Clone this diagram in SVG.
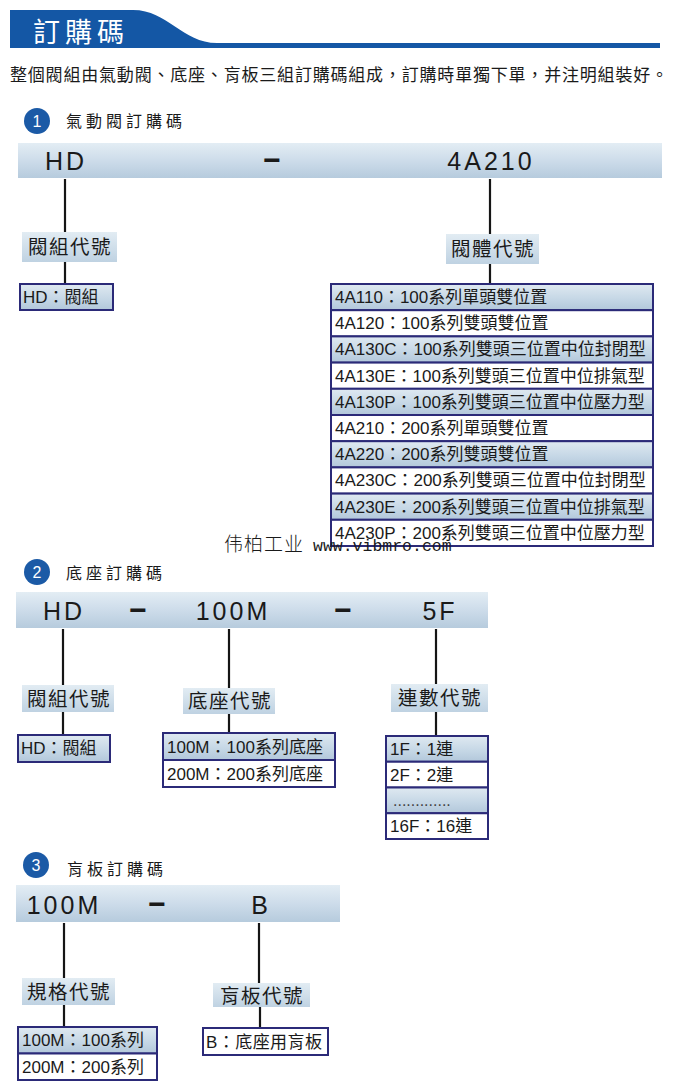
<svg xmlns="http://www.w3.org/2000/svg" width="680" height="1089" viewBox="0 0 680 1089">
<defs>
<linearGradient id="gBar" x1="0" y1="0" x2="0" y2="1">
<stop offset="0" stop-color="#e3edf4"/><stop offset="0.5" stop-color="#cddcea"/><stop offset="1" stop-color="#b6cbdd"/>
</linearGradient>
<linearGradient id="gLbl" x1="0" y1="0" x2="0" y2="1">
<stop offset="0" stop-color="#e2ecf3"/><stop offset="1" stop-color="#bfd2e2"/>
</linearGradient>
<linearGradient id="gRow" x1="0" y1="0" x2="0" y2="1">
<stop offset="0" stop-color="#dfe9f1"/><stop offset="0.6" stop-color="#c4d6e5"/><stop offset="1" stop-color="#b2c7da"/>
</linearGradient>
</defs>
<style>
text{font-family:"Liberation Sans","Noto Sans CJK TC",sans-serif;fill:#1a1a1a}
.bar{fill:url(#gBar)}
.lbl{fill:url(#gLbl)}
.row{fill:url(#gRow);stroke:#2b2a78;stroke-width:2}
.wrow{fill:#fff;stroke:#2b2a78;stroke-width:2}
.code{font-size:25px;letter-spacing:3px;text-anchor:middle}
.dash{font-size:30px;font-weight:bold;text-anchor:middle}
.lt{font-size:19.5px;letter-spacing:1.5px;text-anchor:middle}
.it{font-size:17px}
.st{font-size:16px;letter-spacing:4px}
.num{font-size:16px;fill:#fff;text-anchor:middle}
.circ{fill:#1b5aa6}
.conn line{stroke:#151515;stroke-width:2.2}
</style>
<rect width="680" height="1089" fill="#fff"/>

<g id="header">
<path d="M10,10 H133 C168,10 182,43 217,43 H660 V48 H10 Z" fill="#1457a5"/>
<text x="33" y="42" style="font-size:27px;letter-spacing:5px;fill:#fff">訂購碼</text>
<text x="10" y="81" style="font-size:17px" textLength="658" lengthAdjust="spacing">整個閥組由氣動閥、底座、肓板三組訂購碼組成，訂購時單獨下單，并注明組裝好。</text>
</g>

<g class="conn" id="connectors">
<line x1="65" y1="179" x2="65" y2="232"/>
<line x1="65" y1="262" x2="65" y2="284"/>
<line x1="490" y1="179" x2="490" y2="234"/>
<line x1="490" y1="264" x2="490" y2="284"/>
<line x1="63" y1="629" x2="63" y2="685"/>
<line x1="63" y1="712" x2="63" y2="735"/>
<line x1="229" y1="629" x2="229" y2="688"/>
<line x1="229" y1="714" x2="229" y2="733"/>
<line x1="436" y1="629" x2="436" y2="684"/>
<line x1="436" y1="712" x2="436" y2="736"/>
<line x1="64" y1="923" x2="64" y2="978"/>
<line x1="64" y1="1005" x2="64" y2="1027"/>
<line x1="259" y1="923" x2="259" y2="983"/>
<line x1="260" y1="1007" x2="260" y2="1028"/>
</g>

<g id="s1-title">
<circle class="circ" cx="37" cy="121" r="13"/>
<text class="num" x="37" y="127">1</text>
<text class="st" x="66" y="127">氣動閥訂購碼</text>
</g>
<g id="s1-bar">
<rect class="bar" x="18" y="143" width="644" height="35"/>
<text class="code" x="66" y="170">HD</text>
<text class="dash" x="272" y="170">−</text>
<text class="code" x="491" y="170">4A210</text>
</g>
<g id="s1-label-a">
<rect class="lbl" x="22" y="232" width="95" height="30"/>
<text class="lt" x="70" y="254">閥組代號</text>
</g>
<g id="s1-label-b">
<rect class="lbl" x="446" y="234" width="93" height="30"/>
<text class="lt" x="493" y="256">閥體代號</text>
</g>
<g id="s1-box-a">
<rect class="row" x="20" y="284" width="93" height="26"/>
<text class="it" x="23" y="303">HD：閥組</text>
</g>
<g id="s1-table">
<rect class="row" x="331" y="284" width="322" height="26.2"/>
<rect class="wrow" x="331" y="310.2" width="322" height="26.2"/>
<rect class="row" x="331" y="336.4" width="322" height="26.2"/>
<rect class="wrow" x="331" y="362.6" width="322" height="26.2"/>
<rect class="row" x="331" y="388.8" width="322" height="26.2"/>
<rect class="wrow" x="331" y="415" width="322" height="26.2"/>
<rect class="row" x="331" y="441.2" width="322" height="26.2"/>
<rect class="wrow" x="331" y="467.4" width="322" height="26.2"/>
<rect class="row" x="331" y="493.6" width="322" height="26.2"/>
<rect class="wrow" x="331" y="519.8" width="322" height="26.2"/>
<text class="it" x="335" y="303">4A110：100系列單頭雙位置</text>
<text class="it" x="335" y="329.2">4A120：100系列雙頭雙位置</text>
<text class="it" x="335" y="355.4">4A130C：100系列雙頭三位置中位封閉型</text>
<text class="it" x="335" y="381.6">4A130E：100系列雙頭三位置中位排氣型</text>
<text class="it" x="335" y="407.8">4A130P：100系列雙頭三位置中位壓力型</text>
<text class="it" x="335" y="434">4A210：200系列單頭雙位置</text>
<text class="it" x="335" y="460.2">4A220：200系列雙頭雙位置</text>
<text class="it" x="335" y="486.4">4A230C：200系列雙頭三位置中位封閉型</text>
<text class="it" x="335" y="512.6">4A230E：200系列雙頭三位置中位排氣型</text>
<text class="it" x="335" y="538.8">4A230P：200系列雙頭三位置中位壓力型</text>
</g>
<g id="watermark">
<text x="224" y="551" style="font-family:'Noto Sans CJK SC',sans-serif;font-size:19px;font-weight:300;letter-spacing:1px">伟柏工业</text>
<text x="313" y="551" style="font-family:'Liberation Mono',monospace;font-size:16.5px">www.vibmro.com</text>
</g>

<g id="s2-title">
<circle class="circ" cx="37" cy="572" r="13"/>
<text class="num" x="37" y="578">2</text>
<text class="st" x="66" y="579">底座訂購碼</text>
</g>
<g id="s2-bar">
<rect class="bar" x="16" y="592" width="472" height="36"/>
<text class="code" x="64" y="620">HD</text>
<text class="dash" x="138" y="620">−</text>
<text class="code" x="233" y="620">100M</text>
<text class="dash" x="343" y="620">−</text>
<text class="code" x="440" y="620">5F</text>
</g>
<g id="s2-label-a">
<rect class="lbl" x="22" y="685" width="92" height="27"/>
<text class="lt" x="69" y="706">閥組代號</text>
</g>
<g id="s2-label-b">
<rect class="lbl" x="183" y="688" width="92" height="26"/>
<text class="lt" x="230" y="708">底座代號</text>
</g>
<g id="s2-label-c">
<rect class="lbl" x="391" y="684" width="97" height="28"/>
<text class="lt" x="440" y="705">連數代號</text>
</g>
<g id="s2-box-a">
<rect class="row" x="18" y="735" width="92" height="27"/>
<text class="it" x="21" y="754">HD：閥組</text>
</g>
<g id="s2-table-b">
<rect class="row" x="163" y="733" width="172" height="27"/>
<rect class="wrow" x="163" y="760" width="172" height="27"/>
<text class="it" x="167" y="753">100M：100系列底座</text>
<text class="it" x="167" y="780">200M：200系列底座</text>
</g>
<g id="s2-table-c">
<rect class="row" x="386" y="736" width="102" height="25.75"/>
<rect class="wrow" x="386" y="761.75" width="102" height="25.75"/>
<rect class="row" x="386" y="787.5" width="102" height="25.75"/>
<rect class="wrow" x="386" y="813.25" width="102" height="25.75"/>
<text class="it" x="390" y="755">1F：1連</text>
<text class="it" x="390" y="781">2F：2連</text>
<text class="it" x="393" y="806" style="font-size:16px;fill:#444">.............</text>
<text class="it" x="390" y="832">16F：16連</text>
</g>

<g id="s3-title">
<circle class="circ" cx="36" cy="865" r="13"/>
<text class="num" x="36" y="871">3</text>
<text class="st" x="67" y="875">肓板訂購碼</text>
</g>
<g id="s3-bar">
<rect class="bar" x="16" y="885" width="324" height="37"/>
<text class="code" x="64" y="914">100M</text>
<text class="dash" x="157" y="914">−</text>
<text class="code" x="261" y="914">B</text>
</g>
<g id="s3-label-a">
<rect class="lbl" x="22" y="978" width="93" height="27"/>
<text class="lt" x="69" y="999">規格代號</text>
</g>
<g id="s3-label-b">
<rect class="lbl" x="213" y="983" width="97" height="24"/>
<text class="lt" x="262" y="1003">肓板代號</text>
</g>
<g id="s3-table-a">
<rect class="row" x="18" y="1027" width="139" height="26.5"/>
<rect class="wrow" x="18" y="1053.5" width="139" height="26.5"/>
<text class="it" x="22" y="1046">100M：100系列</text>
<text class="it" x="22" y="1073">200M：200系列</text>
</g>
<g id="s3-box-b">
<rect class="wrow" x="203" y="1028" width="125" height="27"/>
<text class="it" x="206" y="1048" textLength="116" lengthAdjust="spacing">B：底座用肓板</text>
</g>
</svg>
